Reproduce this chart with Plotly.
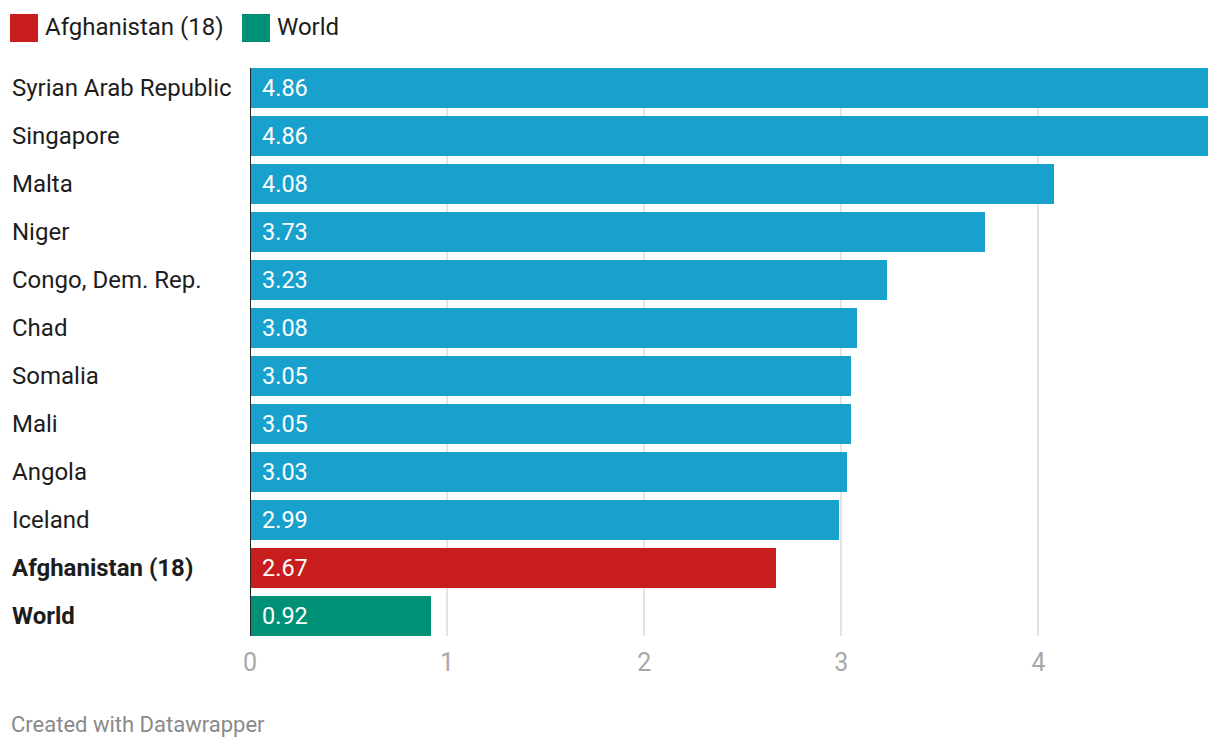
import plotly.graph_objects as go

countries = ["Syrian Arab Republic", "Singapore", "Malta", "Niger", "Congo, Dem. Rep.",
             "Chad", "Somalia", "Mali", "Angola", "Iceland", "Afghanistan (18)", "World"]
values = [4.86, 4.86, 4.08, 3.73, 3.23, 3.08, 3.05, 3.05, 3.03, 2.99, 2.67, 0.92]
value_labels = ["4.86", "4.86", "4.08", "3.73", "3.23", "3.08", "3.05", "3.05", "3.03", "2.99", "2.67", "0.92"]
bold_rows = ["Afghanistan (18)", "World"]
x_ticks = [0, 1, 2, 3, 4]

BLUE = "#18a1cd"
RED = "#c71e1d"
GREEN = "#009076"
colors = [RED if c == "Afghanistan (18)" else GREEN if c == "World" else BLUE for c in countries]

# page body has an 8px margin; compensate
OFF = 8
W, H = 1220 - OFF, 750 - OFF
L, R, T = 250 - OFF, 12, 68 - OFF
ph = 568
B = H - T - ph
pw = W - L - R

fig = go.Figure()
fig.add_trace(go.Bar(
    x=values, y=countries, orientation="h",
    marker=dict(color=colors, line=dict(width=0)),
    width=40 / 48, hoverinfo="skip", showlegend=False,
))

annotations = []
for c, v, lab in zip(countries, values, value_labels):
    annotations.append(dict(
        x=0, y=c, xref="x", yref="y", text=lab, showarrow=False,
        xanchor="left", yanchor="middle", xshift=10,
        font=dict(family="Roboto", size=23.5, color="white"),
    ))
    txt = f"<b>{c}</b>" if c in bold_rows else c
    annotations.append(dict(
        x=(12 - OFF - L) / pw, y=c, xref="paper", yref="y", text=txt, showarrow=False,
        xanchor="left", yanchor="middle", xshift=-2,
        font=dict(family="Roboto", size=24, color="#1d1d1d"),
    ))

# helpers: convert screen px (reference) to paper coords
def px_x(px):
    return (px - OFF - L) / pw

def px_y(py):
    return (T + ph - (py - OFF)) / ph

shapes = []
legend_items = [("Afghanistan (18)", RED, 10), ("World", GREEN, 242)]
for name, col, x0 in legend_items:
    shapes.append(dict(type="rect", xref="paper", yref="paper",
                       x0=px_x(x0), x1=px_x(x0 + 28), y0=px_y(42), y1=px_y(14),
                       fillcolor=col, line=dict(width=0)))
    annotations.append(dict(x=px_x(x0 + 33), y=px_y(27), xref="paper", yref="paper",
                            text=name, showarrow=False, xanchor="left", yanchor="middle",
                            font=dict(family="Roboto", size=24, color="#1d1d1d")))

annotations.append(dict(x=px_x(9), y=px_y(724), xref="paper", yref="paper",
                        text="Created with Datawrapper", showarrow=False,
                        xanchor="left", yanchor="middle",
                        font=dict(family="Roboto", size=22, color="#8a8a8a")))

# zero line
shapes.append(dict(type="line", xref="x", yref="paper", x0=0, x1=0, y0=0, y1=1,
                   line=dict(color="#222222", width=2)))

fig.update_layout(
    width=W, height=H,
    margin=dict(l=L, r=R, t=T, b=B, pad=0),
    paper_bgcolor="white", plot_bgcolor="white",
    bargap=0,
    xaxis=dict(range=[0, 4.86], tickvals=x_ticks, ticktext=[str(t) for t in x_ticks],
               showgrid=True, gridcolor="#e3e3e3", gridwidth=2, zeroline=False,
               showline=False, ticks="", ticklen=0, ticklabelstandoff=9,
               tickfont=dict(family="Roboto", size=25, color="#a8a8a8"),
               fixedrange=True),
    yaxis=dict(type="category", categoryorder="array", categoryarray=countries,
               range=[len(countries) - 1 + 20 / 48, -20 / 48],
               showticklabels=False, showgrid=False, zeroline=False, showline=False,
               fixedrange=True),
    annotations=annotations,
    shapes=shapes,
    font=dict(family="Roboto"),
)

fig.write_html("out.html")
